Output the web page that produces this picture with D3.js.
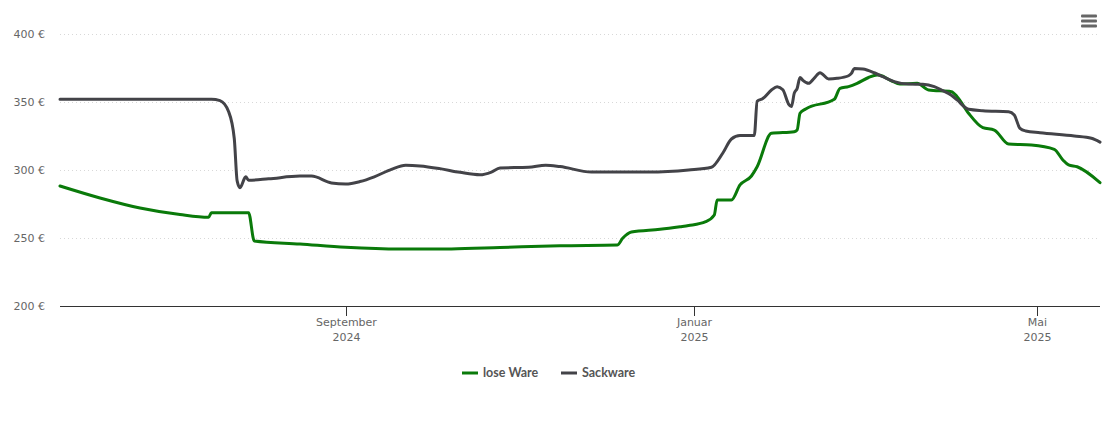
<!DOCTYPE html>
<html><head><meta charset="utf-8">
<script src="https://cdn.jsdelivr.net/npm/d3@7/dist/d3.min.js"></script>
<style>
html,body{margin:0;padding:0;background:#fff;}
svg{display:block;font-family:"DejaVu Sans",Verdana,sans-serif;}
</style></head><body>
<svg id="c" width="1110" height="423"></svg>
<script>
const seriesNames = ["lose Ware", "Sackware"];
const seriesColors = ["#0a7a0a", "#434348"];
const yTicks = [200, 250, 300, 350, 400];
const xTickDates = ["2024-09-01", "2025-01-01", "2025-05-01"];
const xTickLabels = [["September","2024"],["Januar","2025"],["Mai","2025"]];

const loseWare = [
["2024-05-24",288.2],["2024-06-07",279.4],["2024-06-21",272],["2024-07-05",267.2],["2024-07-15",265.2],
["2024-07-16",268.6],["2024-07-29",268.6],["2024-07-31",247.8],["2024-08-16",245.6],["2024-09-01",243.2],
["2024-09-20",241.9],["2024-10-08",242],["2024-10-25",243],["2024-11-15",244.3],["2024-12-05",244.8],
["2024-12-07",250],["2024-12-10",254.4],["2024-12-20",256.4],["2024-12-27",258.3],["2024-12-30",259.2],
["2025-01-05",262],["2025-01-08",266.9],["2025-01-09",277.9],["2025-01-14",277.9],["2025-01-17",289],
["2025-01-21",295.6],["2025-01-23",302.4],["2025-01-28",327],["2025-02-05",328.2],["2025-02-06",329.4],
["2025-02-07",341.7],["2025-02-09",344.9],["2025-02-19",352],["2025-02-21",360],["2025-02-24",361.3],
["2025-02-27",363.7],["2025-03-03",368],["2025-03-06",369.8],["2025-03-07",369.6],["2025-03-11",365.6],
["2025-03-14",363.2],["2025-03-20",363.7],["2025-03-24",358.8],["2025-04-01",357.6],["2025-04-03",353.9],
["2025-04-07",341.7],["2025-04-12",331.1],["2025-04-16",329.4],["2025-04-21",319.1],["2025-04-29",318.4],
["2025-05-07",315.2],["2025-05-10",307.4],["2025-05-12",303.7],["2025-05-15",302.4],["2025-05-23",290.7]
];
const sackware = [
["2024-05-24",352],["2024-07-16",352],["2024-07-19",351],["2024-07-22",343],["2024-07-24",323],
["2024-07-25",292],["2024-07-26",287],["2024-07-28",295],["2024-07-29",292.5],["2024-08-05",293.5],
["2024-08-16",295.5],["2024-08-20",295.5],["2024-08-27",290.5],["2024-09-01",289.7],["2024-09-06",291.5],
["2024-09-11",295],["2024-09-17",300.5],["2024-09-22",303.5],["2024-09-27",303],["2024-10-04",301],
["2024-10-11",298.3],["2024-10-18",296.5],["2024-10-22",298.5],["2024-10-25",301.5],["2024-11-04",302],
["2024-11-10",303.5],["2024-11-15",302.5],["2024-11-26",298.5],["2024-12-16",298.5],["2024-12-30",300],
["2025-01-07",302],["2025-01-11",312.5],["2025-01-14",322.8],["2025-01-17",325.3],["2025-01-22",325.3],
["2025-01-23",350.5],["2025-01-25",352.5],["2025-01-28",358.8],["2025-01-30",361.3],["2025-02-01",359],
["2025-02-03",348.5],["2025-02-04",346.6],["2025-02-05",356.5],["2025-02-06",360],["2025-02-07",368],
["2025-02-08",366],["2025-02-10",363.7],["2025-02-12",367.6],["2025-02-14",371.5],["2025-02-17",367],
["2025-02-20",367.4],["2025-02-24",369.3],["2025-02-25",371],["2025-02-26",374.7],["2025-03-01",374.3],
["2025-03-05",371.5],["2025-03-08",368.6],["2025-03-12",365],["2025-03-17",363.2],["2025-03-22",363],
["2025-03-26",361.3],["2025-03-29",358.3],["2025-04-01",355],["2025-04-03",351.5],["2025-04-07",344.6],
["2025-04-12",343.6],["2025-04-21",342.9],["2025-04-23",340.4],["2025-04-25",330.6],["2025-04-27",328.7],
["2025-05-02",327.4],["2025-05-14",325],["2025-05-20",323.3],["2025-05-23",320.5]
];

const parse = d3.utcParse("%Y-%m-%d");
const svg = d3.select("#c");
const m = {l:60, r:1100, t:34, b:306};
const x = d3.scaleUtc().domain([parse("2024-05-24"), parse("2025-05-23")]).range([m.l, m.r]);
const y = d3.scaleLinear().domain([200, 400]).range([m.b, m.t]);

// grid
svg.append("g").selectAll("line").data(yTicks.filter(v=>v>200)).join("line")
  .attr("x1", m.l).attr("x2", m.r).attr("y1", d=>y(d)+0.5).attr("y2", d=>y(d)+0.5)
  .attr("stroke", "#d8d8d8").attr("stroke-width", 1).attr("stroke-dasharray", "1,3");

// y labels
svg.append("g").selectAll("text").data(yTicks).join("text")
  .attr("x", 45).attr("y", d=>y(d)+4).attr("text-anchor","end")
  .attr("font-size", "11px").attr("fill", "#666").text(d=>d+" €");

// x axis
svg.append("line").attr("x1", m.l).attr("x2", m.r).attr("y1", m.b+0.5).attr("y2", m.b+0.5)
  .attr("stroke", "#333").attr("stroke-width", 1);
const xt = svg.append("g").selectAll("g").data(xTickDates.map((d,i)=>({d:parse(d), l:xTickLabels[i]}))).join("g")
  .attr("transform", d=>`translate(${Math.round(x(d.d))+0.5},0)`);
xt.append("line").attr("y1", m.b).attr("y2", m.b+10).attr("stroke", "#333");
xt.append("text").attr("y", 326).attr("text-anchor","middle").attr("font-size","11px").attr("fill","#666").text(d=>d.l[0]);
xt.append("text").attr("y", 341).attr("text-anchor","middle").attr("font-size","11px").attr("fill","#666").text(d=>d.l[1]);

// lines
const line = d3.line().x(d=>x(parse(d[0]))).y(d=>y(d[1])).curve(d3.curveMonotoneX);
[loseWare, sackware].forEach((s,i)=>{
  svg.append("path").datum(s).attr("d", line).attr("fill","none")
    .attr("stroke", seriesColors[i]).attr("stroke-width", 3)
    .attr("stroke-linejoin","round").attr("stroke-linecap","round");
});

// legend
const lg = svg.append("g");
const legX = [462, 561];
seriesNames.forEach((n,i)=>{
  lg.append("line").attr("x1", legX[i]).attr("x2", legX[i]+16).attr("y1", 373).attr("y2", 373)
    .attr("stroke", seriesColors[i]).attr("stroke-width", 3);
  lg.append("text").attr("x", legX[i]+21).attr("y", 377).attr("font-family","Lato, sans-serif")
    .attr("font-size","12.5px").attr("font-weight","bold")
    .attr("fill","#555").text(n);
});

// menu icon
const mi = svg.append("g");
[16, 21, 26].forEach(yy=>{
  mi.append("rect").attr("x", 1081).attr("y", yy-1.5).attr("width", 16).attr("height", 3)
    .attr("rx",1).attr("fill", "#666");
});
</script>
</body></html>
